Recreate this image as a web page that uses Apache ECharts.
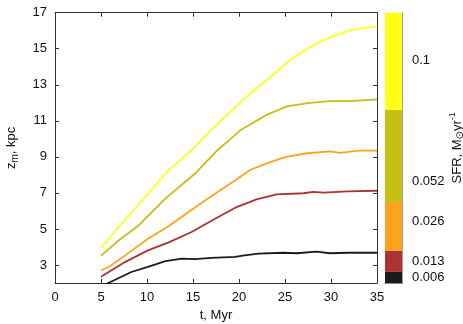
<!DOCTYPE html>
<html><head><meta charset="utf-8">
<script src="https://cdn.jsdelivr.net/npm/echarts@6/dist/echarts.min.js"></script>
<style>html,body{margin:0;padding:0;background:#fff}#c{width:463px;height:324px}</style>
</head><body><div id="c"></div>
<script>
// ---- data ----
const xTicks = [0, 5, 10, 15, 20, 25, 30, 35];
const yTicks = [3, 5, 7, 9, 11, 13, 15, 17];
const sfrBlack  = [[5,1.8],[5.8,2.0],[8.3,2.61],[10.1,2.89],[12,3.21],[13.8,3.35],[15.2,3.32],[17,3.39],[19.6,3.45],[20.4,3.52],[22.1,3.63],[24.8,3.68],[26.3,3.65],[28.4,3.74],[29.9,3.65],[31.8,3.68],[35,3.68]];
const sfrBrown  = [[5,2.35],[7.6,3.16],[10.1,3.81],[12.3,4.24],[14.85,4.83],[15.9,5.14],[17.4,5.57],[19.6,6.18],[21.9,6.64],[24.1,6.92],[27,6.98],[28.1,7.06],[29.2,7.02],[31.8,7.08],[35,7.12]];
const sfrOrange = [[5,2.69],[6,2.94],[7.6,3.52],[10.1,4.46],[12.3,5.13],[14.85,6.06],[17.4,6.95],[19.6,7.7],[21.2,8.27],[23,8.64],[25,8.98],[27.4,9.2],[29.9,9.31],[31,9.22],[33,9.35],[35,9.35]];
const sfrOlive  = [[5,3.52],[7.25,4.5],[9.06,5.18],[11.96,6.67],[13.2,7.2],[15.2,8.06],[17.6,9.35],[19,9.96],[20.1,10.46],[23,11.33],[25.2,11.8],[27.7,12.0],[29.9,12.09],[32.1,12.09],[35,12.19]];
const sfrYellow = [[5,3.94],[6.9,5.09],[9.78,6.76],[12.3,8.24],[14.8,9.35],[17,10.5],[19,11.48],[21.2,12.5],[23.4,13.42],[25.5,14.35],[27.7,15.09],[29.9,15.64],[32.1,16.02],[35,16.26]];
const seriesColors = ['#1a1a1a', '#aa3333', '#ffa31a', '#c6c014', '#ffff1a'];
// colorbar: segment extents (fraction of bar, bottom to top) and tick labels
const cbSegments = [0.041, 0.078, 0.181, 0.34, 0.36];
const cbTickPos = [0.02, 0.078, 0.226, 0.374, 0.825];
const cbTickLabels = ['0.006', '0.013', '0.026', '0.052', '0.1'];

const FONT = 'Liberation Sans';
const AX = '#333';
const chart = echarts.init(document.getElementById('c'), null, {renderer: 'canvas'});
const lineData = [sfrBlack, sfrBrown, sfrOrange, sfrOlive, sfrYellow];
const series = lineData.map((d, i) => ({
  type: 'line', data: d, xAxisIndex: 0, yAxisIndex: 0, showSymbol: false, symbol: 'none',
  lineStyle: {color: seriesColors[i], width: 1.8}, clip: true, animation: false, z: 3
}));
cbSegments.forEach((v, i) => series.push({
  type: 'bar', data: [v], xAxisIndex: 2, yAxisIndex: 2, stack: 'cb', barWidth: '100%',
  itemStyle: {color: seriesColors[i]}, animation: false, silent: true
}));

const tickStyle = {inside: true, length: 4, lineStyle: {color: AX}};
chart.setOption({
  animation: false,
  grid: [
    {left: 55, right: 86, top: 12.7, bottom: 41, show: false, containLabel: false, outerBoundsMode: 'none'},
    {left: 385, width: 17, top: 12.7, bottom: 41, show: false, containLabel: false, outerBoundsMode: 'none'}
  ],
  xAxis: [
    {type: 'value', gridIndex: 0, min: 0, max: 35, interval: 5, position: 'bottom',
     name: 't, Myr', nameLocation: 'middle', nameGap: 24,
     nameTextStyle: {fontFamily: FONT, fontSize: 13, color: '#111'},
     axisLine: {show: true, onZero: false, lineStyle: {color: AX}},
     axisTick: tickStyle,
     axisLabel: {fontFamily: FONT, fontSize: 13, color: '#111', margin: 8},
     splitLine: {show: false}},
    {type: 'value', gridIndex: 0, min: 0, max: 35, interval: 5, position: 'top',
     axisLine: {show: true, onZero: false, lineStyle: {color: AX}},
     axisTick: tickStyle, axisLabel: {show: false}, splitLine: {show: false}},
    {type: 'category', gridIndex: 1, data: ['cb'], show: true,
     axisLine: {show: true, lineStyle: {color: '#666', width: 0.8}}, axisTick: {show: false}, axisLabel: {show: false}},
    {type: 'category', gridIndex: 1, data: ['cb'], show: true, position: 'top',
     axisLine: {show: true, lineStyle: {color: '#888', width: 0.8}}, axisTick: {show: false}, axisLabel: {show: false}}
  ],
  yAxis: [
    {type: 'value', gridIndex: 0, min: 2, max: 17, position: 'left',
     name: '{a|z}{s|m}{a|, kpc}', nameLocation: 'middle', nameGap: 35, nameRotate: 90,
     nameTextStyle: {rich: {
       a: {fontFamily: FONT, fontSize: 13, color: '#111', lineHeight: 18},
       s: {fontFamily: FONT, fontSize: 10, color: '#111', verticalAlign: 'bottom', lineHeight: 18, padding: [5, 0, 0, 0]}}},
     axisLine: {show: true, onZero: false, lineStyle: {color: AX}},
     axisTick: Object.assign({customValues: yTicks}, tickStyle),
     axisLabel: {customValues: yTicks, fontFamily: FONT, fontSize: 13, color: '#111', margin: 8},
     splitLine: {show: false}},
    {type: 'value', gridIndex: 0, min: 2, max: 17, position: 'right',
     axisLine: {show: true, onZero: false, lineStyle: {color: AX}},
     axisTick: Object.assign({customValues: yTicks}, tickStyle),
     axisLabel: {show: false}, splitLine: {show: false}},
    {type: 'value', gridIndex: 1, min: 0, max: 1, position: 'right',
     name: '{a|SFR, M}{s|⊙}{a|yr}{p|-1}', nameLocation: 'middle', nameGap: 31, nameRotate: 90,
     nameTextStyle: {rich: {
       a: {fontFamily: FONT, fontSize: 13, color: '#111', lineHeight: 18},
       s: {fontFamily: 'DejaVu Sans', fontSize: 10, color: '#111', lineHeight: 18, padding: [6, 0, 0, 0]},
       p: {fontFamily: FONT, fontSize: 9, color: '#111', lineHeight: 18, padding: [0, 0, 8, 0]}}},
     axisLine: {show: true, lineStyle: {color: '#888', width: 0.8}},
     axisTick: {show: true, inside: true, length: 4, customValues: cbTickPos, lineStyle: {color: '#555'}},
     axisLabel: {customValues: cbTickPos, fontFamily: FONT, fontSize: 13, color: '#111', margin: 10,
       formatter: v => { const i = cbTickPos.findIndex(p => Math.abs(p - v) < 1e-6); return i >= 0 ? cbTickLabels[i] : ''; }},
     splitLine: {show: false}},
    {type: 'value', gridIndex: 1, min: 0, max: 1, position: 'left',
     axisLine: {show: true, lineStyle: {color: '#888', width: 0.8}},
     axisTick: {show: false}, axisLabel: {show: false}, splitLine: {show: false}}
  ],
  series: series
});
</script></body></html>
